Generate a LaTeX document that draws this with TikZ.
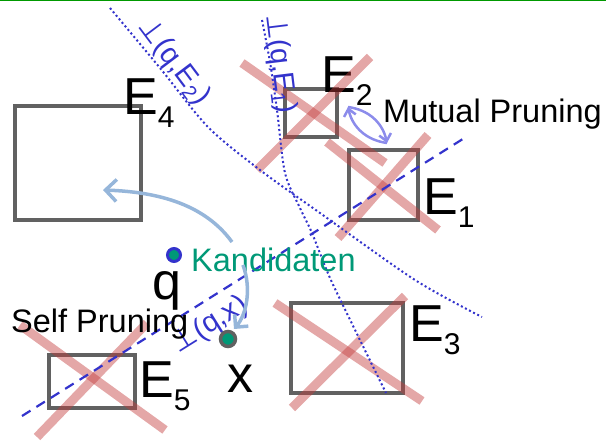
\documentclass[tikz,border=0pt]{standalone}
\usepackage{fontspec}
\setmainfont{Liberation Sans}
\newfontfamily\perpfont{DejaVu Sans}
\usetikzlibrary{arrows.meta, positioning, calc}

\definecolor{boxgray}{RGB}{97,97,97}
\definecolor{crossred}{RGB}{195,60,60}
\definecolor{lineblue}{RGB}{51,51,204}
\definecolor{kgreen}{RGB}{0,153,119}
\definecolor{softblue}{RGB}{150,182,218}
\definecolor{mutblue}{RGB}{140,140,235}
\definecolor{topgreen}{RGB}{0,153,0}

\newcommand{\elab}[1]{E\raisebox{-13pt}{\fontsize{30}{30}\selectfont #1}}
\newcommand{\plab}[1]{{\perpfont ⊥}(q,#1)}

\begin{document}
\begin{tikzpicture}[
			x=1pt, y=-1pt,
			box/.style={rectangle, draw=boxgray, line width=4.5pt, inner sep=0pt},
			elabel/.style={anchor=base west, inner sep=0pt, font=\fontsize{52}{52}\selectfont},
			cross/.style={draw=crossred, opacity=0.45, line width=9pt},
			perpline/.style={draw=lineblue, line width=2pt, dash pattern=on 2pt off 2.6pt},
			bisect/.style={draw=lineblue, line width=2.2pt, dash pattern=on 10pt off 7pt},
			perplabel/.style={text=lineblue, inner sep=0pt, font=\fontsize{29}{29}\selectfont},
			caption/.style={anchor=base west, inner sep=0pt, font=\fontsize{32.5}{32.5}\selectfont},
			softarrow/.style={draw=softblue, line width=3.5pt, -{Straight Barb[length=11pt, width=22pt]}},
			mutarrow/.style={draw=mutblue, line width=2.5pt, -{Straight Barb[length=7pt, width=12pt]}}
			]
			\useasboundingbox (0,0) rectangle (606,443);
			\draw[topgreen, line width=1pt] (0,1) -- (606,1);
			
			% Boxes
			\node[box, minimum width=126pt, minimum height=114pt] (E4) at (78,163) {};
			\node[box, minimum width=52pt, minimum height=48pt] (E2) at (311,113) {};
			\node[box, minimum width=69pt, minimum height=70pt] (E1) at (383.5,185) {};
			\node[box, minimum width=112pt, minimum height=90pt] (E3) at (347,348) {};
			\node[box, minimum width=86pt, minimum height=53pt] (E5) at (92,381.5) {};
			
			% Box labels
			\node[elabel] (l4) at (123,115) {\elab{4}};
			\node[elabel] (l2) at (321,93) {\elab{2}};
			\node[elabel] (l1) at (423,215) {\elab{1}};
			\node[elabel] (l3) at (409,342) {\elab{3}};
			\node[elabel] (l5) at (139,398) {\elab{5}};
			
			% Pruned entries
			\draw[cross] (242,63) -- (385,163);
			\draw[cross] (370,57) -- (257,170);
			\draw[cross] (327,142) -- (438,230);
			\draw[cross] (428,135) -- (338,238);
			\draw[cross] (275,303) -- (422,401);
			\draw[cross] (405,296) -- (292,408);
			\draw[cross] (20,325) -- (165,430);
			\draw[cross] (147,323) -- (37,437);
			
			% Bisectors
			\draw[perpline] plot[smooth] coordinates {(110,8) (160,68) (208,127) (260,170) (320,213) (415,280) (482,317)};
			\draw[perpline] plot[smooth] coordinates {(262,20) (270,62) (277,110) (285,173) (300,208) (312,233) (330,278) (358,336) (386,393)};
			\coordinate (b1) at (22,416);
			\coordinate (b2) at (466,137);
			\draw[bisect] (b1) -- (b2);
			
			\node[perplabel, rotate=-53] (pe2) at (174,62) {\plab{E\textsubscript{2}}};
			\node[perplabel, rotate=-83] (pe1) at (280,64) {\plab{E\textsubscript{1}}};
			\node[perplabel, rotate=32] (px) at (210,325) {\plab{x}};
			
			% Points
			\node[circle, draw=lineblue, line width=3pt, fill=kgreen, minimum size=13pt, inner sep=0pt] (q) at (174,255) {};
			\node[circle, draw=boxgray, line width=3.5pt, fill=kgreen, minimum size=15pt, inner sep=0pt] (x) at (228,339) {};
			\node[elabel] (qlab) at (152,300) {q};
			\node[elabel] (xlab) at (227,393) {x};
			
			% Texts
			\node[caption, text=kgreen] (cand) at (191,272) {Kandidaten};
			\node[caption] (mutual) at (383,123) {Mutual Pruning};
			\node[caption] (self) at (11,333) {Self Pruning};
			
			% Arrows
			\coordinate (a4s) at (232,242);
			\coordinate (a4e) at (103,190);
			\draw[softarrow] (a4s) .. controls (205,205) and (160,192) .. (a4e);
			\coordinate (axs) at (243,265);
			\coordinate (axe) at (234,329);
			\draw[softarrow, -{Straight Barb[length=9pt, width=18pt]}] (axs) .. controls (252,290) and (246,315) .. (axe);
			\coordinate (m1) at (348,107);
			\coordinate (m2) at (387,143);
			\draw[mutarrow] (m1) to[bend left=35] (m2);
			\draw[mutarrow] (m2) to[bend left=35] (m1);
			
		\end{tikzpicture}
\end{document}
